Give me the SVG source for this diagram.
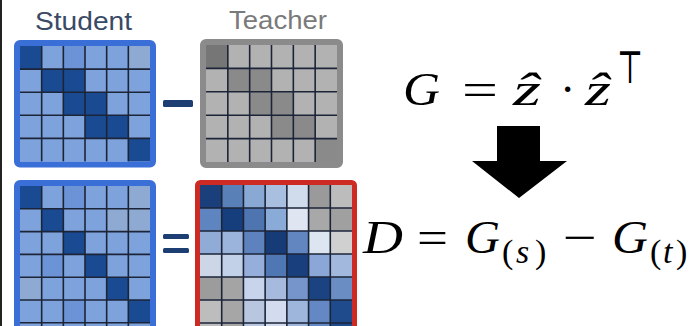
<svg xmlns="http://www.w3.org/2000/svg" width="690" height="326" viewBox="0 0 690 326">
<style>
.sd{fill:#1a4a92}.sl{fill:#7ea2dc}.sm{fill:#6b93d6}.sg{fill:#8eaad2}
.td{fill:#767676}.tm{fill:#8a8a8a}.tl{fill:#b2b2b2}
.grid{fill:none;stroke:#1c2538;stroke-width:1.6}
.lbl{font-family:"Liberation Sans",Arial,sans-serif;font-size:25px}
.m{font-family:"Liberation Serif","DejaVu Serif",serif;font-size:46px;fill:#000}
.i{font-style:italic}
.sub{font-size:34px}
.op{fill:#1d3e72}
</style>
<rect width="690" height="326" fill="#fff"/>
<rect x="0" y="0" width="2" height="326" fill="#222"/>

<g id="student-label"><text class="lbl" x="35" y="30" fill="#3a4a66" textLength="97" lengthAdjust="spacingAndGlyphs">Student</text></g>
<g id="teacher-label"><text class="lbl" x="229" y="29" fill="#7a7a7a" textLength="98" lengthAdjust="spacingAndGlyphs">Teacher</text></g>

<g id="student-top">
<rect class="sl" x="20" y="46" width="130" height="115.5"/>
<rect class="sd" x="20" y="46" width="21.67" height="23.1"/>
<rect class="sm" x="63.33" y="46" width="21.67" height="23.1"/>
<rect class="sg" x="128.33" y="46" width="21.67" height="23.1"/>
<rect class="sd" x="41.67" y="69.1" width="21.67" height="23.1"/>
<rect class="sd" x="63.33" y="69.1" width="21.67" height="23.1"/>
<rect class="sd" x="63.33" y="92.2" width="21.67" height="23.1"/>
<rect class="sd" x="85" y="92.2" width="21.67" height="23.1"/>
<rect class="sd" x="85" y="115.3" width="21.67" height="23.1"/>
<rect class="sd" x="106.67" y="115.3" width="21.67" height="23.1"/>
<rect class="sd" x="128.33" y="138.4" width="21.67" height="23.1"/>
<path class="grid" d="M41.67,46V161.5M63.33,46V161.5M85,46V161.5M106.67,46V161.5M128.33,46V161.5M20,69.1H150M20,92.2H150M20,115.3H150M20,138.4H150"/>
<rect x="17" y="43" width="136" height="121.5" rx="3" fill="none" stroke="#3a6fd8" stroke-width="6"/>
</g>

<g id="teacher-top">
<rect class="tl" x="206" y="45" width="131" height="117"/>
<rect class="td" x="206" y="45" width="21.83" height="23.4"/>
<rect class="tm" x="227.83" y="68.4" width="21.83" height="23.4"/>
<rect class="tm" x="249.67" y="68.4" width="21.83" height="23.4"/>
<rect class="tm" x="249.67" y="91.8" width="21.83" height="23.4"/>
<rect class="tm" x="271.5" y="91.8" width="21.83" height="23.4"/>
<rect class="tm" x="271.5" y="115.2" width="21.83" height="23.4"/>
<rect class="tm" x="293.33" y="115.2" width="21.83" height="23.4"/>
<rect class="tm" x="315.17" y="138.6" width="21.83" height="23.4"/>
<path class="grid" stroke="#222" d="M227.83,45V162M249.67,45V162M271.5,45V162M293.33,45V162M315.17,45V162M206,68.4H337M206,91.8H337M206,115.2H337M206,138.6H337"/>
<rect x="203" y="42" width="137" height="123" rx="3" fill="none" stroke="#8b8b8b" stroke-width="6"/>
</g>

<g id="student-bottom">
<rect class="sl" x="20" y="186" width="130" height="140"/>
<rect class="sd" x="20" y="186" width="21.67" height="22.8"/>
<rect class="sm" x="63.33" y="186" width="21.67" height="22.8"/>
<rect class="sg" x="128.33" y="186" width="21.67" height="22.8"/>
<rect class="sd" x="41.67" y="208.8" width="21.67" height="22.8"/>
<rect class="sg" x="106.67" y="208.8" width="21.67" height="22.8"/>
<rect class="sg" x="128.33" y="208.8" width="21.67" height="22.8"/>
<rect class="sd" x="63.33" y="231.6" width="21.67" height="22.8"/>
<rect class="sm" x="41.67" y="254.4" width="21.67" height="22.8"/>
<rect class="sd" x="85" y="254.4" width="21.67" height="22.8"/>
<rect class="sg" x="20" y="277.2" width="21.67" height="22.8"/>
<rect class="sd" x="106.67" y="277.2" width="21.67" height="22.8"/>
<rect class="sm" x="63.33" y="300" width="21.67" height="22.8"/>
<rect class="sd" x="128.33" y="300" width="21.67" height="22.8"/>
<path class="grid" d="M41.67,186V326M63.33,186V326M85,186V326M106.67,186V326M128.33,186V326M20,208.8H150M20,231.6H150M20,254.4H150M20,277.2H150M20,300H150M20,322.8H150"/>
<rect x="17" y="183" width="136" height="146" rx="3" fill="none" stroke="#3a6fd8" stroke-width="6"/>
</g>

<g id="difference">
<rect x="200" y="185" width="21.71" height="23" fill="#1a3f7a"/>
<rect x="221.71" y="185" width="21.71" height="23" fill="#5a80b8"/>
<rect x="243.43" y="185" width="21.71" height="23" fill="#8aa8d4"/>
<rect x="265.14" y="185" width="21.71" height="23" fill="#a9bfe0"/>
<rect x="286.86" y="185" width="21.71" height="23" fill="#d0dcec"/>
<rect x="308.57" y="185" width="21.71" height="23" fill="#9a9a9a"/>
<rect x="330.29" y="185" width="21.71" height="23" fill="#bcbcbc"/>
<rect x="200" y="208" width="21.71" height="23" fill="#5f85c0"/>
<rect x="221.71" y="208" width="21.71" height="23" fill="#173e7c"/>
<rect x="243.43" y="208" width="21.71" height="23" fill="#4e75b0"/>
<rect x="265.14" y="208" width="21.71" height="23" fill="#8aaad8"/>
<rect x="286.86" y="208" width="21.71" height="23" fill="#dfe6f2"/>
<rect x="308.57" y="208" width="21.71" height="23" fill="#a8a8a8"/>
<rect x="330.29" y="208" width="21.71" height="23" fill="#a0a0a0"/>
<rect x="200" y="231" width="21.71" height="23" fill="#8fabd6"/>
<rect x="221.71" y="231" width="21.71" height="23" fill="#9ab4dc"/>
<rect x="243.43" y="231" width="21.71" height="23" fill="#5e82bd"/>
<rect x="265.14" y="231" width="21.71" height="23" fill="#163b76"/>
<rect x="286.86" y="231" width="21.71" height="23" fill="#6286c0"/>
<rect x="308.57" y="231" width="21.71" height="23" fill="#dde5f0"/>
<rect x="330.29" y="231" width="21.71" height="23" fill="#d0d0d0"/>
<rect x="200" y="254" width="21.71" height="23" fill="#ccd6e6"/>
<rect x="221.71" y="254" width="21.71" height="23" fill="#c3d1e8"/>
<rect x="243.43" y="254" width="21.71" height="23" fill="#95aedb"/>
<rect x="265.14" y="254" width="21.71" height="23" fill="#4f77b3"/>
<rect x="286.86" y="254" width="21.71" height="23" fill="#1a3f7d"/>
<rect x="308.57" y="254" width="21.71" height="23" fill="#8aa7d8"/>
<rect x="330.29" y="254" width="21.71" height="23" fill="#a2b8dc"/>
<rect x="200" y="277" width="21.71" height="23" fill="#9c9c9c"/>
<rect x="221.71" y="277" width="21.71" height="23" fill="#a4a4a4"/>
<rect x="243.43" y="277" width="21.71" height="23" fill="#c7d4ec"/>
<rect x="265.14" y="277" width="21.71" height="23" fill="#a5badc"/>
<rect x="286.86" y="277" width="21.71" height="23" fill="#7696cb"/>
<rect x="308.57" y="277" width="21.71" height="23" fill="#1b4382"/>
<rect x="330.29" y="277" width="21.71" height="23" fill="#6a8dc4"/>
<rect x="200" y="300" width="21.71" height="26" fill="#bdbdbd"/>
<rect x="221.71" y="300" width="21.71" height="26" fill="#a6a6a6"/>
<rect x="243.43" y="300" width="21.71" height="26" fill="#b8c6e0"/>
<rect x="265.14" y="300" width="21.71" height="26" fill="#d2dcee"/>
<rect x="286.86" y="300" width="21.71" height="26" fill="#9fb6dc"/>
<rect x="308.57" y="300" width="21.71" height="26" fill="#6388c3"/>
<rect x="330.29" y="300" width="21.71" height="26" fill="#1f4b8c"/>
<path class="grid" d="M221.71,185V326M243.43,185V326M265.14,185V326M286.86,185V326M308.57,185V326M330.29,185V326M200,208H352M200,231H352M200,254H352M200,277H352M200,300H352M200,323H352"/>
<rect x="197.5" y="182.5" width="157" height="146" rx="3" fill="none" stroke="#cc2a22" stroke-width="5"/>
</g>

<g id="operators">
<rect class="op" x="163" y="100" width="30" height="7" rx="1.5"/>
<rect class="op" x="163" y="234" width="26" height="5" rx="1.5"/>
<rect class="op" x="163" y="248" width="26" height="5" rx="1.5"/>
</g>

<g id="formula-gram">
<text class="m i" x="403" y="105" textLength="37" lengthAdjust="spacingAndGlyphs">G</text>
<text class="m" x="462" y="105" textLength="36" lengthAdjust="spacingAndGlyphs">=</text>
<text class="m i" x="513" y="105" textLength="28" lengthAdjust="spacingAndGlyphs">z&#x302;</text>
<text class="m" x="560" y="105">·</text>
<text class="m i" x="585" y="105" textLength="26" lengthAdjust="spacingAndGlyphs">z&#x302;</text>
<text class="m" x="617" y="83" font-size="32" textLength="26" lengthAdjust="spacingAndGlyphs">⊤</text>
</g>

<g id="connectors">
<path d="M497,126H540V161H567L519,198L472,161H497Z" fill="#000"/>
</g>

<g id="formula-diff">
<text class="m i" x="363" y="253" textLength="40" lengthAdjust="spacingAndGlyphs">D</text>
<text class="m" x="417" y="253" textLength="31" lengthAdjust="spacingAndGlyphs">=</text>
<text class="m i" x="465" y="253" textLength="35" lengthAdjust="spacingAndGlyphs">G</text>
<text class="m sub" y="263"><tspan x="502">(</tspan><tspan class="i" x="516">s</tspan><tspan x="535">)</tspan></text>
<text class="m" x="563" y="253" textLength="34" lengthAdjust="spacingAndGlyphs">−</text>
<text class="m i" x="612" y="253" textLength="36" lengthAdjust="spacingAndGlyphs">G</text>
<text class="m sub" y="263"><tspan x="650">(</tspan><tspan class="i" x="663">t</tspan><tspan x="676">)</tspan></text>
</g>
</svg>
